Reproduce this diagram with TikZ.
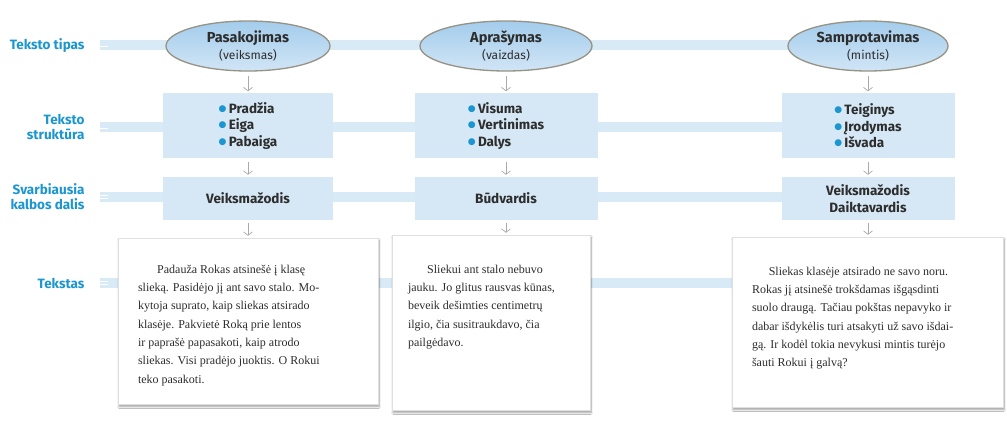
\documentclass[tikz,border=0pt]{standalone}
\usepackage{fontspec}
\setmainfont{Liberation Serif}
\newfontfamily\labelfont{Fira Sans}
\newfontfamily\dotfont{DejaVu Sans}
\usetikzlibrary{shapes.geometric,arrows.meta,shadows.blur,positioning}
\definecolor{labelblue}{RGB}{28,150,208}
\definecolor{bandblue}{RGB}{216,234,246}
\definecolor{boxblue}{RGB}{214,232,245}
\definecolor{ellblue}{RGB}{163,204,236}
\definecolor{ellline}{RGB}{150,146,132}
\definecolor{arrgray}{RGB}{170,170,170}
\definecolor{txtdark}{RGB}{45,45,45}
\newcommand{\itm}[1]{\raisebox{0.3ex}{\dotfont\fontsize{9}{9}\selectfont\color{labelblue}●}\,#1}
\begin{document}
\begin{tikzpicture}[x=1pt,y=-1pt,>={Straight Barb[length=3.5pt,width=9pt]},
	rowlabel/.style={anchor=east,align=right,text=labelblue,font=\labelfont\bfseries\fontsize{13.5}{15}\selectfont},
	typeellipse/.style={ellipse,draw=ellline,line width=1.3pt,top color=ellblue,bottom color=ellblue!50!white,
		minimum height=50pt,inner sep=0pt,align=center,text=txtdark,font=\labelfont\fontsize{14.5}{17}\selectfont},
	structbox/.style={rectangle,fill=boxblue,minimum height=65pt,inner sep=0pt,align=left,text=txtdark,
		font=\labelfont\bfseries\fontsize{13.5}{16.5}\selectfont},
	partbox/.style={rectangle,fill=boxblue,minimum height=43pt,inner sep=0pt,align=center,text=txtdark,
		font=\labelfont\bfseries\fontsize{13.5}{17}\selectfont},
	paper/.style={rectangle,fill=white,draw=gray!25,
		blur shadow={shadow xshift=1pt,shadow yshift=-2.5pt,shadow blur steps=8,shadow opacity=40}},
	storytext/.style={align=left,inner sep=0pt,text=txtdark,font=\fontsize{12}{18.3}\selectfont},
	flow/.style={->,draw=arrgray,line width=0.7pt}]

	\useasboundingbox (0,0) rectangle (1007,433);
	\fill[white] (0,0) rectangle (1007,433);

	% juostos
	\foreach \y in {45,127,197,283}{
		\fill[bandblue] (108,\y-5) rectangle (870,\y+5);
		\foreach \s in {-5,-1.5,2}
			\fill[bandblue] (100,\y+\s) rectangle (108,\y+\s+2.6);
	}

	% eilučių pavadinimai
	\node[rowlabel] (ltipas) at (88,46) {Teksto tipas};
	\node[rowlabel] (lstrukt) at (88,127) {Teksto\\struktūra};
	\node[rowlabel] (ldalis) at (88,197) {Svarbiausia\\kalbos dalis};
	\node[rowlabel] (ltekst) at (88,283) {Tekstas};

	% teksto tipai
	\node[typeellipse,minimum width=164pt] (pasak) at (248,46) {\textbf{Pasakojimas}\\{\fontsize{12}{13}\selectfont(veiksmas)}};
	\node[typeellipse,minimum width=172pt] (apras) at (506,46) {\textbf{Aprašymas}\\{\fontsize{12}{13}\selectfont(vaizdas)}};
	\node[typeellipse,minimum width=160pt] (samp) at (868,46) {\textbf{Samprotavimas}\\{\fontsize{12}{13}\selectfont(mintis)}};

	% struktūra
	\node[structbox,minimum width=170pt] (spasak) at (248,126) {\itm{Pradžia}\\\itm{Eiga}\\\itm{Pabaiga}};
	\node[structbox,minimum width=183pt] (sapras) at (506,126) {\itm{Visuma}\\\itm{Vertinimas}\\\itm{Dalys}};
	\node[structbox,minimum width=173pt] (ssamp) at (868,126) {\itm{Teiginys}\\\itm{Įrodymas}\\\itm{Išvada}};

	% kalbos dalys
	\node[partbox,minimum width=170pt] (dpasak) at (248,198.5) {Veiksmažodis};
	\node[partbox,minimum width=183pt] (dapras) at (506,198.5) {Būdvardis};
	\node[partbox,minimum width=173pt] (dsamp) at (868,198.5) {Veiksmažodis\\Daiktavardis};

	% tekstai
	\node[paper,minimum width=260pt,minimum height=166pt] (tpasak) at (248,321) {};
	\node[paper,minimum width=198pt,minimum height=175pt] (tapras) at (491,322.5) {};
	\node[paper,minimum width=271pt,minimum height=170pt] (tsamp) at (867.5,322) {};

	\node[storytext,below right=27pt and 20pt of tpasak.north west] (xpasak) {\hspace*{1.6em}Padauža Rokas atsinešė į klasę\\
		slieką. Pasidėjo jį ant savo stalo. Mo-\\
		kytoja suprato, kaip sliekas atsirado\\
		klasėje. Pakvietė Roką prie lentos\\
		ir paprašė papasakoti, kaip atrodo\\
		sliekas. Visi pradėjo juoktis. O Rokui\\
		teko pasakoti.};
	\node[storytext,below right=30pt and 16pt of tapras.north west] (xapras) {\hspace*{1.6em}Sliekui ant stalo nebuvo\\
		jauku. Jo glitus rausvas kūnas,\\
		beveik dešimties centimetrų\\
		ilgio, čia susitraukdavo, čia\\
		pailgėdavo.};
	\node[storytext,below right=30pt and 20pt of tsamp.north west] (xsamp) {\hspace*{1.4em}Sliekas klasėje atsirado ne savo noru.\\
		Rokas jį atsinešė trokšdamas išgąsdinti\\
		suolo draugą. Tačiau pokštas nepavyko ir\\
		dabar išdykėlis turi atsakyti už savo išdai-\\
		gą. Ir kodėl tokia nevykusi mintis turėjo\\
		šauti Rokui į galvą?};

	% rodyklės
	\draw[flow,shorten <=4pt,shorten >=2pt] (pasak) -- (spasak);
	\draw[flow,shorten <=4pt,shorten >=2pt] (apras) -- (sapras);
	\draw[flow,shorten <=4pt,shorten >=2pt] (samp) -- (ssamp);
	\draw[flow,shorten <=3pt,shorten >=2pt] (spasak) -- (dpasak);
	\draw[flow,shorten <=3pt,shorten >=2pt] (sapras) -- (dapras);
	\draw[flow,shorten <=3pt,shorten >=2pt] (ssamp) -- (dsamp);
	\draw[flow,shorten <=3pt,shorten >=2pt] (dpasak.south) -- (dpasak.south |- tpasak.north);
	\draw[flow,shorten <=3pt,shorten >=2pt] (dapras.south) -- (dapras.south |- tapras.north);
	\draw[flow,shorten <=3pt,shorten >=2pt] (dsamp.south) -- (dsamp.south |- tsamp.north);
\end{tikzpicture}
\end{document}
